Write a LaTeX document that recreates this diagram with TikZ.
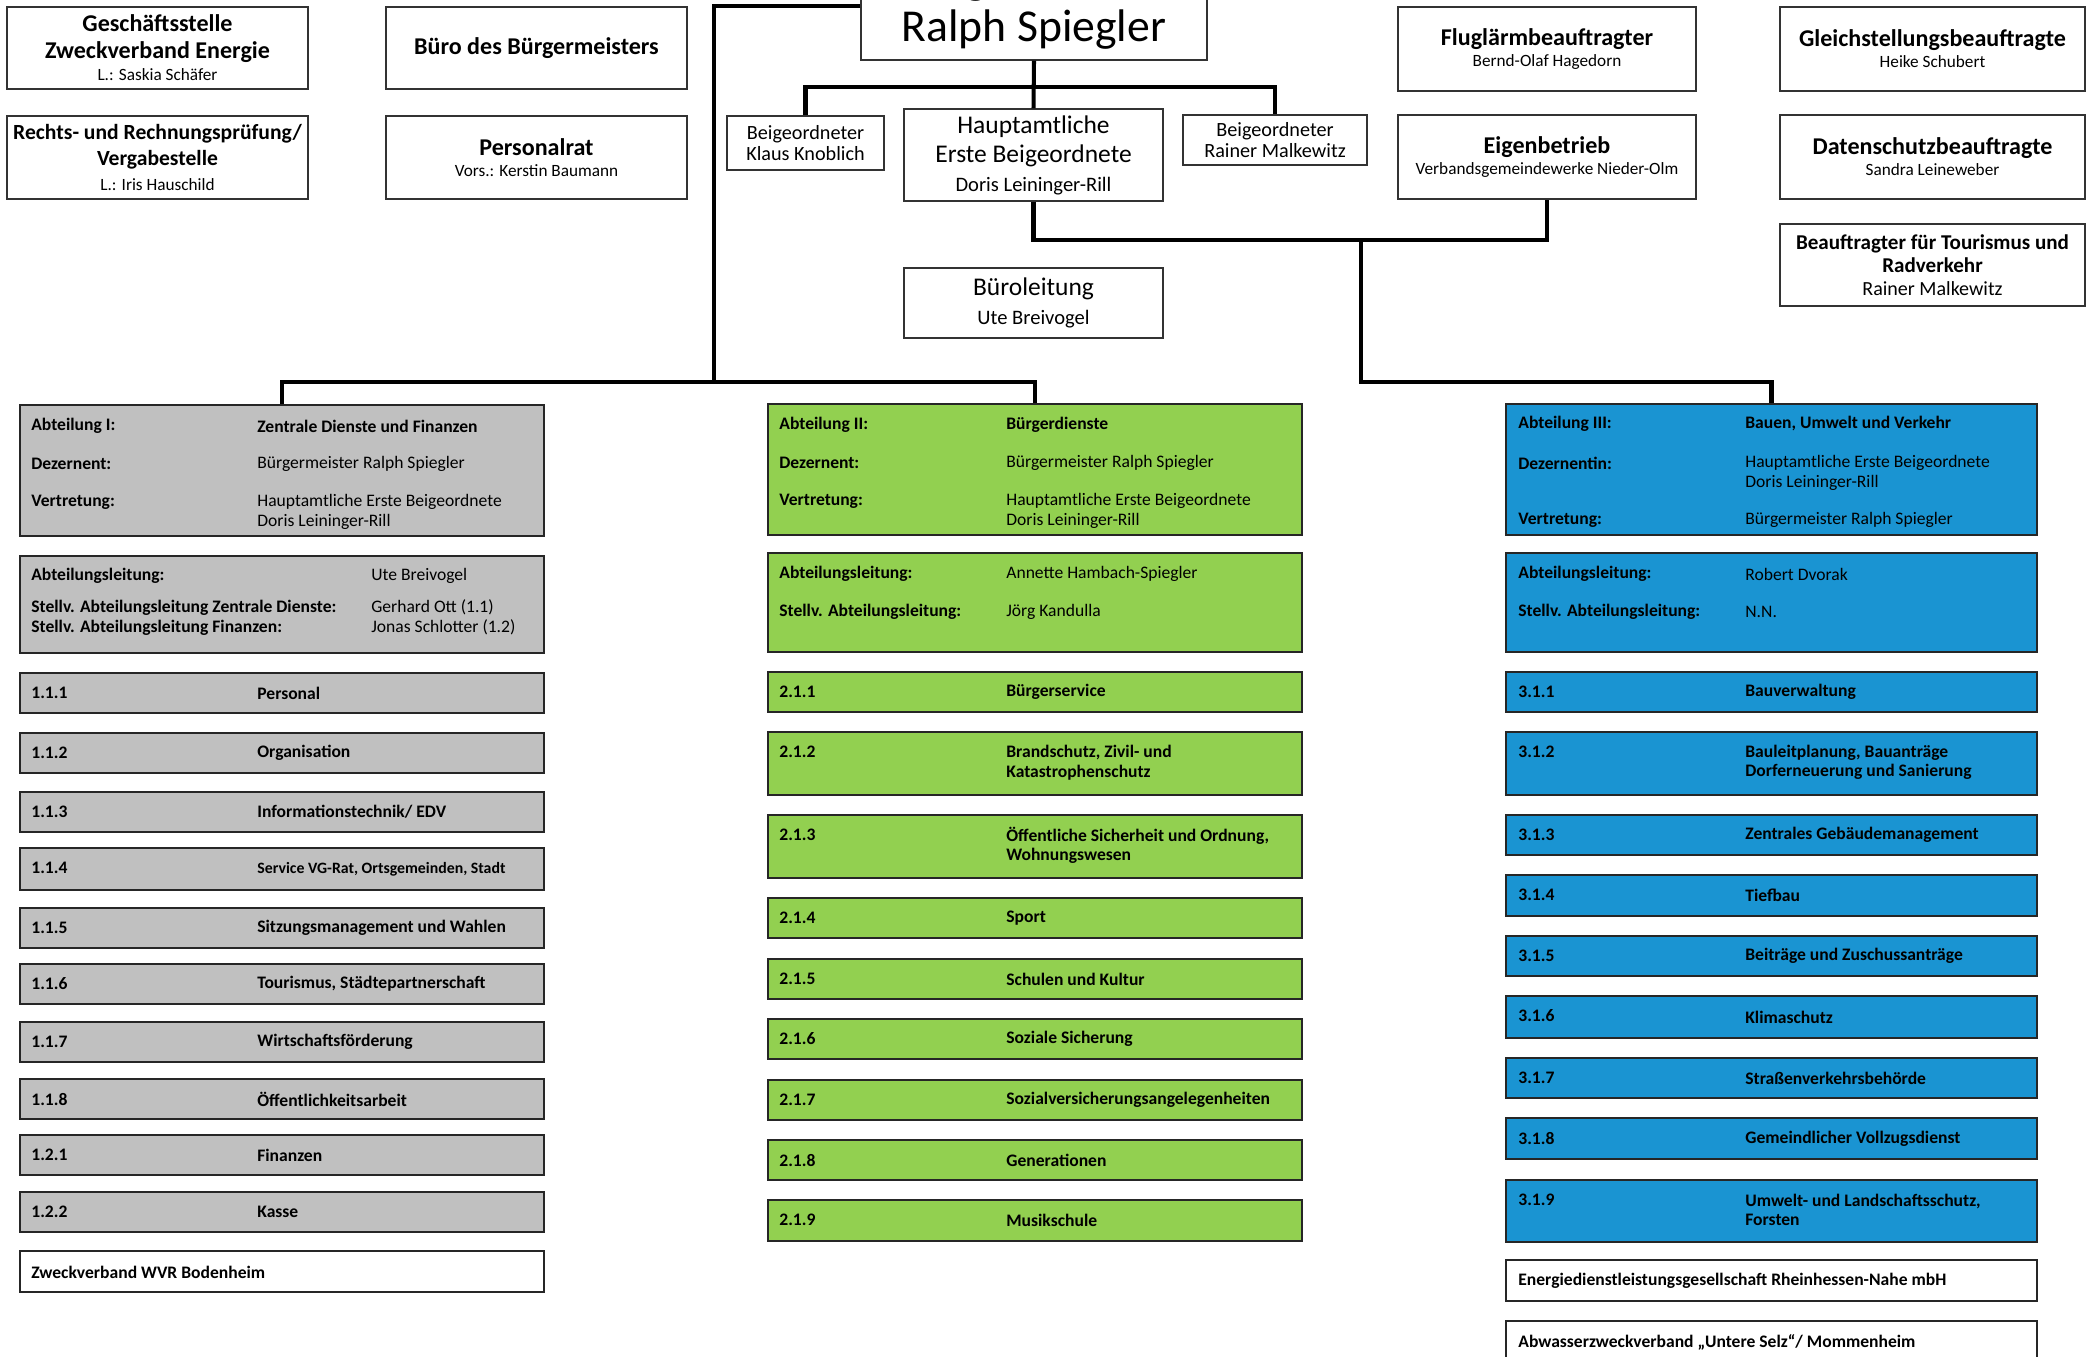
\documentclass[tikz,border=0pt]{standalone}
\usepackage{fontspec}
\setmainfont{Carlito}
\usetikzlibrary{positioning}

\definecolor{grauabt}{RGB}{192,192,192}
\definecolor{gruenabt}{RGB}{146,208,80}
\definecolor{blauabt}{RGB}{26,148,210}
\newcommand{\fs}[2]{\fontsize{#1}{#2}\selectfont}
\newcommand{\pxl}{0.02cm}
\newcommand{\unter}[1]{{\mdseries\fs{9.8}{11}#1}}

\begin{document}
\begin{tikzpicture}
        [
            x=0.02cm, y=-0.02cm,
            sz/.style 2 args={minimum width=#1*\pxl, minimum height=#2*\pxl},
            stabsnode/.style={rectangle, draw=black!80, line width=0.8pt, fill=white, align=center, inner sep=0pt},
            titelnode/.style={stabsnode, font=\bfseries\fs{13.7}{15}},
            abtnode/.style={rectangle, draw=black!85, line width=1.1pt, anchor=north west, inner sep=0pt},
            grau/.style={abtnode, fill=grauabt},
            gruen/.style={abtnode, fill=gruenabt},
            blau/.style={abtnode, fill=blauabt},
            weiss/.style={abtnode, fill=white},
            zeile/.style={anchor=west, inner sep=0pt, align=left, font=\fs{10}{11.3}},
            zeilefett/.style={zeile, font=\bfseries\fs{10}{11.3}},
            linie/.style={line width=2.3pt},
        ]
        \useasboundingbox (0,0) rectangle (2092,1356);
        \clip (0,0) rectangle (2092,1356);
        \fill[white] (0,0) rectangle (2092,1356);

        %Stabsstellen links
        \node[titelnode, sz={301}{82}]   (gesch)   at (157.5,48)  {Geschäftsstelle\\Zweckverband Energie\\[-2pt]\unter{L.: Saskia Schäfer}};
        \node[titelnode, sz={301}{83}, font=\bfseries\fs{12.3}{15}] (rpa) at (157.5,157.5) {Rechts- und Rechnungsprüfung/\\Vergabestelle\\[-1pt]\unter{L.: Iris Hauschild}};
        \node[titelnode, sz={301}{82}]   (buerobm) at (536.5,48)  {Büro des Bürgermeisters};
        \node[titelnode, sz={301}{83}]   (prat)    at (536.5,157.5) {Personalrat\\[-3pt]\unter{Vors.: Kerstin Baumann}};

        %Verwaltungsspitze
        \node[stabsnode, sz={346}{108}, font=\fs{26}{27.5}] (bm) at (1034,6) {Bürgermeister\\Ralph Spiegler};
        \node[stabsnode, sz={157}{54}, font=\fs{11.5}{12.2}] (beigkk) at (805.5,143) {Beigeordneter\\Klaus Knoblich};
        \node[stabsnode, sz={259}{92}, font=\fs{14.5}{16.5}] (haupt) at (1033.5,155) {Hauptamtliche\\Erste Beigeordnete\\{\fs{11.7}{13}Doris Leininger-Rill}};
        \node[stabsnode, sz={184}{50}, font=\fs{11.5}{12.2}] (beigrm) at (1275,140) {Beigeordneter\\Rainer Malkewitz};
        \node[stabsnode, sz={259}{70}, font=\fs{14.5}{16.5}] (bueroleit) at (1033.5,303) {Büroleitung\\{\fs{11.7}{13}Ute Breivogel}};

        %Stabsstellen rechts
        \node[titelnode, sz={298}{84}] (flug)   at (1547,49)   {Fluglärmbeauftragter\\[-3pt]\unter{Bernd-Olaf Hagedorn}};
        \node[titelnode, sz={298}{84}] (eigen)  at (1547,157)  {Eigenbetrieb\\[-3pt]\unter{Verbandsgemeindewerke Nieder-Olm}};
        \node[titelnode, sz={305}{84}] (gleich) at (1932.5,49) {Gleichstellungsbeauftragte\\[-3pt]\unter{Heike Schubert}};
        \node[titelnode, sz={305}{84}] (daten)  at (1932.5,157) {Datenschutzbeauftragte\\[-3pt]\unter{Sandra Leineweber}};
        \node[titelnode, sz={305}{82}, font=\bfseries\fs{12}{13}] (tour) at (1932.5,265) {Beauftragter für Tourismus und\\Radverkehr\\{\mdseries\fs{11.4}{13}Rainer Malkewitz}};

        %Abteilung I
        \node[grau, sz={524}{131}] (abt1) at (19,404) {};
        \node[zeilefett] (abt1-a)  at (31,426)  {Abteilung I:};
        \node[zeilefett] (abt1-av) at (257,426) {Zentrale Dienste und Finanzen};
        \node[zeilefett] (abt1-d)  at (31,464)  {Dezernent:};
        \node[zeile]     (abt1-dv) at (257,464) {Bürgermeister Ralph Spiegler};
        \node[zeilefett] (abt1-v)  at (31,502)  {Vertretung:};
        \node[zeile]     (abt1-vv) at (257,512) {Hauptamtliche Erste Beigeordnete\\Doris Leininger-Rill};
        \node[grau, sz={524}{97}] (leit1) at (19,555) {};
        \node[zeilefett] (leit1-a)  at (31,576)    {Abteilungsleitung:};
        \node[zeile]     (leit1-av) at (371,576)   {Ute Breivogel};
        \node[zeilefett] (leit1-s)  at (31,617.5)  {Stellv. Abteilungsleitung Zentrale Dienste:\\Stellv. Abteilungsleitung Finanzen:};
        \node[zeile]     (leit1-sv) at (371,617.5) {Gerhard Ott (1.1)\\Jonas Schlotter (1.2)};
        \foreach \nr/\y/\h/\txt [count=\i] in {1.1.1/672/40/Personal, 1.1.2/732/40/Organisation, 1.1.3/791/40/{Informationstechnik/ EDV}, 1.1.4/847/42/{\fs{9}{10}Service VG-Rat, Ortsgemeinden, Stadt}, 1.1.5/907/40/Sitzungsmanagement und Wahlen, 1.1.6/963/40/{Tourismus, Städtepartnerschaft}, 1.1.7/1021/40/Wirtschaftsförderung, 1.1.8/1078/40/Öffentlichkeitsarbeit, 1.2.1/1134/40/Finanzen, 1.2.2/1191/40/Kasse}
        {
            \node[grau, sz={524}{\h}] (abtI-\i) at (19,\y) {};
            \node[zeilefett] (abtI-\i-nr)  at (31,\y+21) {\nr};
            \node[zeilefett] (abtI-\i-txt) at (257,{\y+21+(\h-40)*0.45}) {\txt};
        }
        \node[weiss, sz={524}{41}] (wvr) at (19,1250) {};
        \node[zeilefett] (wvr-txt) at (31,1272) {Zweckverband WVR Bodenheim};

        %Abteilung II
        \node[gruen, sz={534}{131}] (abt2) at (767,403) {};
        \node[zeilefett] (abt2-a)  at (779,425)  {Abteilung II:};
        \node[zeilefett] (abt2-av) at (1006,425) {Bürgerdienste};
        \node[zeilefett] (abt2-d)  at (779,463)  {Dezernent:};
        \node[zeile]     (abt2-dv) at (1006,463) {Bürgermeister Ralph Spiegler};
        \node[zeilefett] (abt2-v)  at (779,501)  {Vertretung:};
        \node[zeile]     (abt2-vv) at (1006,511) {Hauptamtliche Erste Beigeordnete\\Doris Leininger-Rill};
        \node[gruen, sz={534}{99}] (leit2) at (767,552) {};
        \node[zeilefett] (leit2-a)  at (779,574)  {Abteilungsleitung:};
        \node[zeile]     (leit2-av) at (1006,574) {Annette Hambach-Spiegler};
        \node[zeilefett] (leit2-s)  at (779,612)  {Stellv. Abteilungsleitung:};
        \node[zeile]     (leit2-sv) at (1006,612) {Jörg Kandulla};
        \foreach \nr/\y/\h/\txt [count=\i] in {2.1.1/671/40/Bürgerservice, 2.1.2/731/63/{Brandschutz, Zivil- und\\Katastrophenschutz}, 2.1.3/814/63/{Öffentliche Sicherheit und Ordnung,\\Wohnungswesen}, 2.1.4/897/40/Sport, 2.1.5/958/40/Schulen und Kultur, 2.1.6/1018/40/Soziale Sicherung, 2.1.7/1079/40/Sozialversicherungsangelegenheiten, 2.1.8/1139/40/Generationen, 2.1.9/1199/41/Musikschule}
        {
            \node[gruen, sz={534}{\h}] (abtII-\i) at (767,\y) {};
            \node[zeilefett] (abtII-\i-nr)  at (779,\y+21) {\nr};
            \node[zeilefett] (abtII-\i-txt) at (1006,{\y+21+(\h-40)*0.45}) {\txt};
        }

        %Abteilung III
        \node[blau, sz={531}{131}] (abt3) at (1505,403) {};
        \node[zeilefett] (abt3-a)  at (1518,424)   {Abteilung III:};
        \node[zeilefett] (abt3-av) at (1745,424)   {Bauen, Umwelt und Verkehr};
        \node[zeilefett] (abt3-d)  at (1518,463)   {Dezernentin:};
        \node[zeile]     (abt3-dv) at (1745,472.5) {Hauptamtliche Erste Beigeordnete\\Doris Leininger-Rill};
        \node[zeilefett] (abt3-v)  at (1518,520)   {Vertretung:};
        \node[zeile]     (abt3-vv) at (1745,520)   {Bürgermeister Ralph Spiegler};
        \node[blau, sz={531}{99}] (leit3) at (1505,552) {};
        \node[zeilefett] (leit3-a)  at (1518,574)  {Abteilungsleitung:};
        \node[zeile]     (leit3-av) at (1745,574)  {Robert Dvorak};
        \node[zeilefett] (leit3-s)  at (1518,612)  {Stellv. Abteilungsleitung:};
        \node[zeile]     (leit3-sv) at (1745,612)  {N.N.};
        \foreach \nr/\y/\h/\txt [count=\i] in {3.1.1/671/40/Bauverwaltung, 3.1.2/731/63/{Bauleitplanung, Bauanträge\\Dorferneuerung und Sanierung}, 3.1.3/814/40/Zentrales Gebäudemanagement, 3.1.4/874/41/Tiefbau, 3.1.5/935/40/Beiträge und Zuschussanträge, 3.1.6/995/42/Klimaschutz, 3.1.7/1057/40/Straßenverkehrsbehörde, 3.1.8/1117/41/Gemeindlicher Vollzugsdienst, 3.1.9/1179/62/{Umwelt- und Landschaftsschutz,\\Forsten}}
        {
            \node[blau, sz={531}{\h}] (abtIII-\i) at (1505,\y) {};
            \node[zeilefett] (abtIII-\i-nr)  at (1518,\y+21) {\nr};
            \node[zeilefett] (abtIII-\i-txt) at (1745,{\y+21+(\h-40)*0.45}) {\txt};
        }
        \node[weiss, sz={531}{41}] (edg) at (1505,1259) {};
        \node[zeilefett] (edg-txt) at (1518,1281) {Energiedienstleistungsgesellschaft Rheinhessen-Nahe mbH};
        \node[weiss, sz={531}{60}] (awv) at (1505,1320) {};
        \node[zeilefett] (awv-txt) at (1518,1342) {Abwasserzweckverband „Untere Selz“/ Mommenheim};

        %Linien
        \coordinate (verteiler) at (1034,87);
        \coordinate (abzweig)   at (1361,239);
        \coordinate (schiene3)  at (1361,382);
        \coordinate (schiene1)  at (714,382);
        \draw[linie] (bm.south) -- (haupt.north);
        \draw[linie] (beigkk.north) |- (verteiler) -| (beigrm.north);
        \draw[linie] (haupt.south) -- ++(0,38) -| (eigen.south);
        \draw[linie] (abzweig) -- (schiene3) -| (abt3.north);
        \draw[linie] (bm.west) -| (schiene1);
        \draw[linie] (abt1.north) |- (schiene1) -| (abt2.north);
    \end{tikzpicture}
\end{document}
